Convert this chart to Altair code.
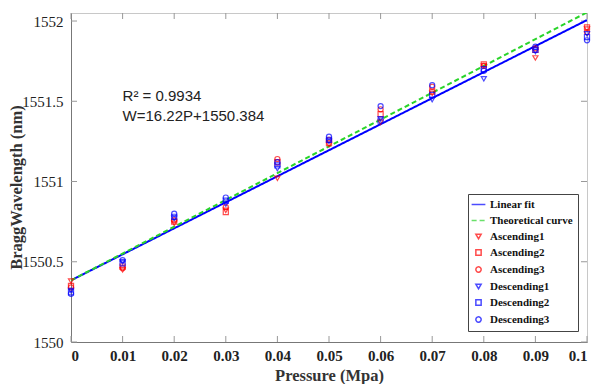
import altair as alt
import pandas as pd

# ---- data ----
pressure = [0.0, 0.01, 0.02, 0.03, 0.04, 0.05, 0.06, 0.07, 0.08, 0.09, 0.1]
ascending1 = [1550.38, 1550.45, 1550.74, 1550.82, 1551.02, 1551.23, 1551.37, 1551.55, 1551.72, 1551.77, 1551.95]
ascending2 = [1550.35, 1550.47, 1550.75, 1550.81, 1551.12, 1551.24, 1551.42, 1551.56, 1551.73, 1551.82, 1551.96]
ascending3 = [1550.34, 1550.46, 1550.76, 1550.84, 1551.14, 1551.26, 1551.45, 1551.59, 1551.72, 1551.83, 1551.93]
descending1 = [1550.32, 1550.50, 1550.77, 1550.86, 1551.08, 1551.25, 1551.39, 1551.51, 1551.64, 1551.81, 1551.92]
descending2 = [1550.31, 1550.49, 1550.78, 1550.88, 1551.10, 1551.26, 1551.38, 1551.54, 1551.70, 1551.82, 1551.90]
descending3 = [1550.30, 1550.51, 1550.80, 1550.90, 1551.12, 1551.28, 1551.47, 1551.60, 1551.69, 1551.84, 1551.88]

line_p = [0.0, 0.1]
linear_fit = [1550.384, 1552.006]
theoretical = [1550.384, 1552.054]

series_names = ["Linear fit", "Theoretical curve", "Ascending1", "Ascending2", "Ascending3",
                "Descending1", "Descending2", "Descending3"]
series_colors = ["#0000ff", "#2ad42a", "#ff0000", "#ff0000", "#ff0000", "#0000ff", "#0000ff", "#0000ff"]
line_sym = "M-2.6,0L2.6,0"
series_shapes = [line_sym, line_sym, "triangle-down", "square", "circle", "triangle-down", "square", "circle"]
series_dash = [[1, 0], [5, 3], [1, 0], [1, 0], [1, 0], [1, 0], [1, 0], [1, 0]]

x_ticks = [0.0, 0.01, 0.02, 0.03, 0.04, 0.05, 0.06, 0.07, 0.08, 0.09, 0.1]
y_ticks = [1550.0, 1550.5, 1551.0, 1551.5, 1552.0]

annot_p = [0.01, 0.01]
annot_w = [1551.5, 1551.375]
annot_text = ["R² = 0.9934", "W=16.22P+1550.384"]

# ---- tables ----
pts = []
for name, vals in zip(series_names[2:], [ascending1, ascending2, ascending3,
                                          descending1, descending2, descending3]):
    for p, w in zip(pressure, vals):
        pts.append({"P": p, "W": w, "series": name})
pts = pd.DataFrame(pts)

lines = []
for name, vals in [("Linear fit", linear_fit), ("Theoretical curve", theoretical)]:
    for p, w in zip(line_p, vals):
        lines.append({"P": p, "W": w, "series": name})
lines = pd.DataFrame(lines)

annot = pd.DataFrame({"P": annot_p, "W": annot_w, "text": annot_text})
xt = pd.DataFrame({"t": x_ticks})
yt = pd.DataFrame({"t": y_ticks})

W_PX, H_PX = 516, 329

xs = alt.Scale(domain=[0, 0.1], nice=False, zero=False)
ys = alt.Scale(domain=[1550, 1552.05], nice=False, zero=False)

x_axis = alt.Axis(values=x_ticks, format="~g", grid=False, ticks=False, tickSize=0,
                  domainColor="#777777", labelFont="Liberation Serif", labelFontWeight="bold",
                  labelFontSize=15, labelColor="#222222", labelPadding=6,
                  title="Pressure (Mpa)", titleFont="Liberation Serif", titleFontWeight="bold",
                  titleFontSize=16.5, titleColor="#333333", titleX=W_PX / 2, titleY=33,
                  titleBaseline="middle", titleAlign="center")
y_axis = alt.Axis(values=y_ticks, format="~g", grid=False, ticks=False, tickSize=0,
                  domainColor="#777777", labelFont="Liberation Serif", labelFontWeight="normal",
                  labelFontSize=15, labelColor="#222222", labelPadding=8,
                  title="BraggWavelength (nm)", titleFont="Liberation Serif", titleFontWeight="bold",
                  titleFontSize=16.5, titleColor="#333333", titleX=-55, titleY=174,
                  titleAngle=270, titleBaseline="middle", titleAlign="center")

legend = alt.Legend(title=None, orient="none", legendX=397, legendY=181,
                    strokeColor="#444444", fillColor="white", padding=5,
                    labelFont="Liberation Serif", labelFontWeight="bold", labelFontSize=11,
                    labelColor="#111111", symbolSize=28, symbolStrokeWidth=1.5,
                    rowPadding=4, labelOffset=6)

color = alt.Color("series:N", scale=alt.Scale(domain=series_names, range=series_colors), legend=legend)
shape = alt.Shape("series:N", scale=alt.Scale(domain=series_names, range=series_shapes), legend=legend)
dash = alt.StrokeDash("series:N", scale=alt.Scale(domain=series_names, range=series_dash), legend=legend)

line_layer = alt.Chart(lines).mark_line(strokeWidth=2, clip=True).encode(
    x=alt.X("P:Q", scale=xs, axis=x_axis),
    y=alt.Y("W:Q", scale=ys, axis=y_axis),
    color=color, strokeDash=dash, detail="series:N")

point_layer = alt.Chart(pts).mark_point(filled=False, size=26, strokeWidth=1.2).encode(
    x=alt.X("P:Q", scale=xs),
    y=alt.Y("W:Q", scale=ys),
    color=color, shape=shape)

text_layer = alt.Chart(annot).mark_text(align="left", baseline="alphabetic",
                                        font="Liberation Sans", fontSize=15, color="#222222").encode(
    x=alt.X("P:Q", scale=xs), y=alt.Y("W:Q", scale=ys), text="text:N")

tick_color = "#999999"
bottom_ticks = alt.Chart(xt).mark_rule(color=tick_color).encode(
    x=alt.X("t:Q", scale=xs), y=alt.value(H_PX), y2=alt.value(H_PX - 6))
top_ticks = alt.Chart(xt).mark_rule(color=tick_color).encode(
    x=alt.X("t:Q", scale=xs), y=alt.value(0), y2=alt.value(6))
left_ticks = alt.Chart(yt).mark_rule(color=tick_color).encode(
    y=alt.Y("t:Q", scale=ys), x=alt.value(0), x2=alt.value(6))
right_ticks = alt.Chart(yt).mark_rule(color=tick_color).encode(
    y=alt.Y("t:Q", scale=ys), x=alt.value(W_PX), x2=alt.value(W_PX - 6))

chart = alt.layer(bottom_ticks, top_ticks, left_ticks, right_ticks,
                  line_layer, point_layer, text_layer).properties(
    width=W_PX, height=H_PX,
    autosize=alt.AutoSizeParams(type="none"),
    padding={"left": 63, "top": 5, "right": 6, "bottom": 42},
    background="white",
).configure_view(stroke="#c8c8c8", strokeWidth=1)

chart.save("out.html", embed_options={"renderer": "svg", "actions": False})
